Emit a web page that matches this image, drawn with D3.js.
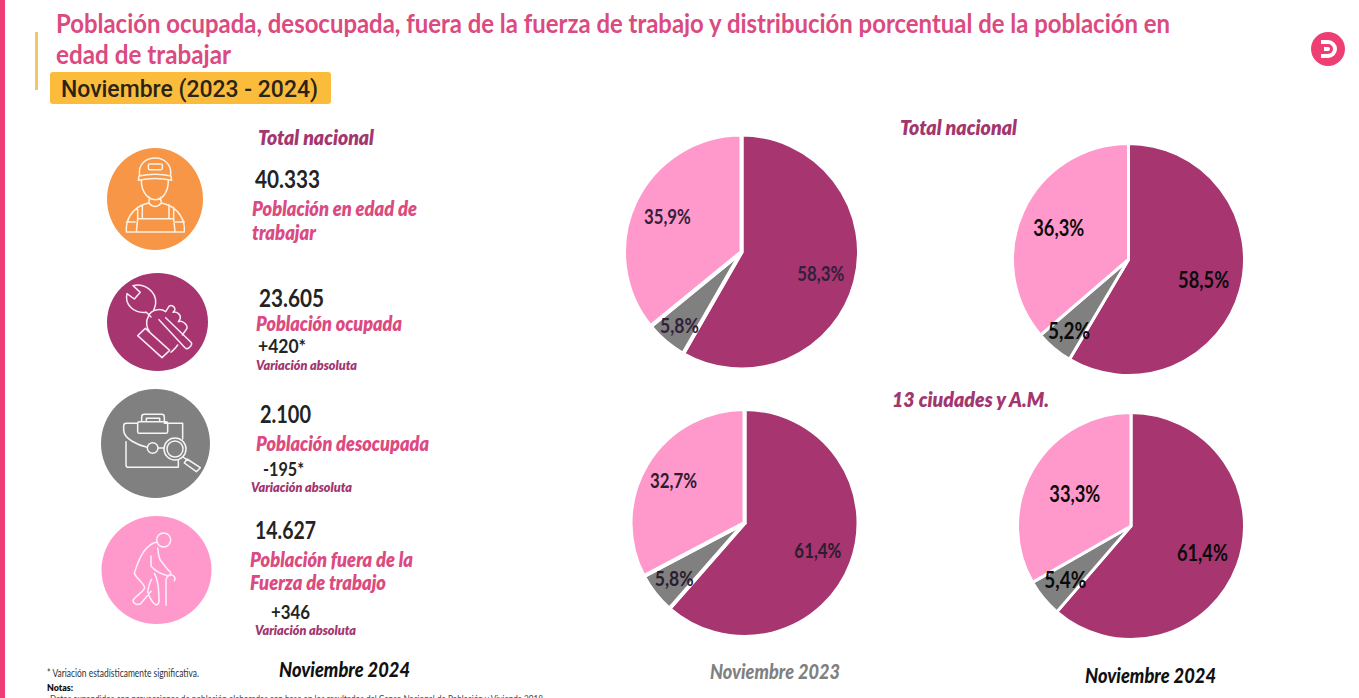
<!DOCTYPE html>
<html lang="es">
<head>
<meta charset="utf-8">
<script src="https://cdn.jsdelivr.net/npm/d3@7/dist/d3.min.js"></script>
<style>
html,body{margin:0;padding:0;background:#fff;overflow:hidden}
svg{display:block}
text{font-family:Lato,"Open Sans",sans-serif}
</style>
</head>
<body>
<svg id="chart" width="1359" height="698" viewBox="0 0 1359 698"></svg>
<script>
// ---- data ----
const categories = ["Población ocupada", "Población desocupada", "Población fuera de la Fuerza de trabajo"];
const nacional2023 = [58.3, 5.8, 35.9];
const nacional2024 = [58.5, 5.2, 36.3];
const ciudades2023 = [61.4, 5.8, 32.7];
const ciudades2024 = [61.4, 5.4, 33.3];
const totals = ["40.333", "23.605", "2.100", "14.627"];
const variations = ["+420*", "-195*", "+346"];
const titleLines = ["Población ocupada, desocupada, fuera de la fuerza de trabajo y distribución porcentual de la población en", "edad de trabajar"];
const subtitle = "Noviembre (2023 - 2024)";

// ---- layout ----
const svg = d3.select("#chart");
const PINK = "#DB4A80", WINE = "#A2366F", INK = "#232323";
const colors = d3.scaleOrdinal().domain(categories).range(["#A63570", "#808080", "#FF99CC"]);
const fmt = v => d3.format(".1f")(v).replace(".", ",") + "%";

function label(str, x, y, width, size, fill, weight, italic, parent) {
  const t = (parent || svg).append("text")
    .attr("x", x).attr("y", y).attr("font-size", size).attr("fill", fill)
    .attr("font-weight", weight).text(str);
  if (italic) t.attr("font-style", "italic");
  if (width) t.attr("textLength", width).attr("lengthAdjust", "spacingAndGlyphs");
  return t;
}

// ---- frame ----
svg.append("rect").attr("x", 0).attr("y", 0).attr("width", 5).attr("height", 698).attr("fill", "#EE3F74");
svg.append("rect").attr("x", 35).attr("y", 32).attr("width", 3).attr("height", 58).attr("fill", "#F2C765");
label(titleLines[0], 56, 33, 1114, 27, PINK, 700);
label(titleLines[1], 56, 64, 175, 27, PINK, 700);
svg.append("rect").attr("x", 50).attr("y", 72).attr("width", 281).attr("height", 32).attr("rx", 3).attr("fill", "#FBBC3C");
label(subtitle, 61, 97, 257, 23, "#2A2416", 500).style("font-family", "Roboto");

// logo
svg.append("circle").attr("cx", 1328).attr("cy", 49).attr("r", 17).attr("fill", "#EE3F74");
svg.append("path").attr("d", "M1321,40H1328A9,9 0 0 1 1328,58H1321V54H1328A5,5 0 0 0 1328,44H1321Z M1324,47H1328A2,2 0 0 1 1328,51H1324Z")
  .attr("fill", "#fff");

// ---- left column icons (paths traced at 3x inside each icon's box) ----
const icons = [
  {cx: 155, cy: 199, rx: 48, ry: 51, ox: 107, oy: 148, fill: "#F79646", stroke: "#FFF1E2", rings: [], d:
    "M98,84C92,50 115,30 145,30C175,30 197,55 190,84 M96,84Q145,74 192,84L194,97Q145,86 94,97Z M128,48H162Q166,48 166,52V61Q166,65 162,65H128Q124,65 124,61V52Q124,48 128,48Z " +
    "M103,97C103,135 125,155 145,155C165,155 184,135 184,97 M128,148L125,165 M160,148L163,165 M125,165Q145,186 163,165 " +
    "M125,165C90,172 60,200 58,240V252H232V240C230,200 200,172 163,165 M106,170V212H186V170 M92,178V212H106 M200,178V212H186 M92,212L88,252 M200,212L204,252 M58,222H84 M232,222H206"},
  {cx: 157.5, cy: 322, rx: 50.5, ry: 49, ox: 107, oy: 273, fill: "#A63570", stroke: "#FBE8F2", rings: [], d:
    "M78,38L100,58L82,78L60,62C52,92 78,122 118,118L132,132 M78,38C112,30 148,55 146,90C146,98 142,106 140,112 " +
    "M125,128C132,110 160,104 176,116L186,100C192,94 204,100 204,110L198,118C208,114 222,124 220,136L214,146C226,142 242,154 240,166L226,186 " +
    "M156,140L234,224Q240,230 246,224L252,218Q256,212 252,208L176,134 " +
    "M125,128C115,145 118,165 128,176 M192,238C198,232 206,226 212,216 " +
    "M92,188L115,166L188,232L165,254Z"},
  {cx: 155.5, cy: 443.5, rx: 54.5, ry: 54.5, ox: 101, oy: 389, fill: "#808080", stroke: "#F5F5F5",
   rings: [[155, 177, 16], [222, 180, 33], [222, 180, 24]], d:
    "M190,103H245V150 M110,103H76Q68,103 68,111V125C70,150 110,168 139,175 M171,177H189 M75,158V228Q75,235 82,235H232V213 " +
    "M110,103V128Q110,133 115,133H195Q200,133 200,128V103Q200,98 195,98H115Q110,98 110,103Z M122,98V84Q122,76 130,76H182Q190,76 190,84V98 M136,98V88H176V98 " +
    "M246,204L260,214 M258,210L298,236L286,248L250,222Z"},
  {cx: 156.5, cy: 570, rx: 55, ry: 54, ox: 101, oy: 516, fill: "#FF99CC", stroke: "#FFF1F8",
   rings: [[188, 72, 21]], d:
    "M168,78C135,84 115,120 100,172C108,190 128,200 131,215C130,226 98,244 96,254C98,266 112,268 120,262C130,250 145,232 150,226 " +
    "M150,120V150C158,160 175,172 195,178C205,180 212,176 208,168C198,160 190,148 178,132C172,122 172,108 170,96 " +
    "M152,190C145,200 142,215 140,228C146,244 154,262 164,266C172,268 176,258 174,248C172,225 176,200 160,172 " +
    "M195,268V190C198,178 212,172 220,182Q224,188 220,194"}
];
const iconG = svg.selectAll("g.icon").data(icons).join("g").attr("class", "icon");
iconG.append("ellipse").attr("cx", d => d.cx).attr("cy", d => d.cy).attr("rx", d => d.rx).attr("ry", d => d.ry).attr("fill", d => d.fill);
const glyph = iconG.append("g").attr("transform", d => `translate(${d.ox},${d.oy}) scale(${1 / 3})`)
  .attr("fill", "none").attr("stroke", d => d.stroke).attr("stroke-width", 4.5)
  .attr("stroke-linejoin", "round").attr("stroke-linecap", "round");
glyph.append("path").attr("d", d => d.d);
glyph.selectAll("circle").data(d => d.rings).join("circle")
  .attr("cx", d => d[0]).attr("cy", d => d[1]).attr("r", d => d[2]);

// ---- left column text ----
label("Total nacional", 258, 145, 116, 21, WINE, 800, true);
label(totals[0], 255, 188, 65, 24, INK, 700);
label("Población en edad de", 252, 216, 165, 20, PINK, 800, true);
label("trabajar", 252, 240, 64, 20, PINK, 800, true);
label(totals[1], 259, 307, 65, 24, INK, 700);
label(categories[0], 256, 331, 146, 20, PINK, 800, true);
label(variations[0], 258, 353, 48, 19, INK, 700);
label("Variación absoluta", 256, 370, 101, 13, WINE, 800, true);
label(totals[2], 260, 423, 51, 24, INK, 700);
label(categories[1], 256, 451, 173, 20, PINK, 800, true);
label(variations[1], 263, 475.5, 41, 19, INK, 700);
label("Variación absoluta", 251, 491.5, 101, 13, WINE, 800, true);
label(totals[3], 255, 539, 61, 24, INK, 700);
label("Población fuera de la", 250, 567, 163, 20, PINK, 800, true);
label("Fuerza de trabajo", 250, 590, 136, 20, PINK, 800, true);
label(variations[2], 271, 619, 39, 19, INK, 700);
label("Variación absoluta", 255, 634.5, 101, 13, WINE, 800, true);
label("Noviembre 2024", 279, 677, 131, 20, "#111", 900, true);
label("* Variación estadísticamente significativa.", 47, 677, 152, 10.5, "#333", 400);
label("Notas:", 47, 691, 26, 10, "#111", 800);
label("Datos expandidos con proyecciones de población elaboradas con base en los resultados del Censo Nacional de Población y Vivienda 2018.", 50, 702, 495, 10, "#444", 400);

// ---- pies ----
const pies = [
  {values: nacional2023, cx: 741.5, cy: 252, r: 115.5, stroke: 4, ink: "#33203A", weight: 700, size: 21, radii: [0.71, 0.83, 0.71]},
  {values: nacional2024, cx: 1128.5, cy: 259.5, r: 114.5, stroke: 3, ink: "#0A0A0A", weight: 700, size: 23, radii: [0.68, 0.81, 0.67]},
  {values: ciudades2023, cx: 744.5, cy: 523, r: 112, stroke: 4, ink: "#2B1C30", weight: 700, size: 21, radii: [0.70, 0.80, 0.74]},
  {values: ciudades2024, cx: 1131, cy: 526, r: 112, stroke: 3, ink: "#0A0A0A", weight: 700, size: 23, radii: [0.68, 0.76, 0.58]}
];
const pieGen = d3.pie().sort(null).startAngle(0).endAngle(2 * Math.PI);
pies.forEach(p => {
  const g = svg.append("g").attr("transform", `translate(${p.cx},${p.cy})`);
  const arc = d3.arc().innerRadius(0).outerRadius(p.r + p.stroke / 2);
  const arcs = pieGen(p.values);
  g.selectAll("path").data(arcs).join("path")
    .attr("d", arc)
    .attr("fill", (d, i) => colors(categories[i]))
    .attr("stroke", "#fff").attr("stroke-width", p.stroke).attr("stroke-linejoin", "miter");
  g.selectAll("text").data(arcs).join("text")
    .attr("transform", (d, i) => {
      const c = d3.arc().innerRadius(p.r * p.radii[i]).outerRadius(p.r * p.radii[i]).centroid(d);
      return `translate(${c[0]},${c[1]})`;
    })
    .attr("text-anchor", "middle").attr("dy", "0.36em")
    .attr("font-size", p.size).attr("font-weight", p.weight).attr("fill", p.ink)
    .attr("textLength", (d, i) => p.stroke === 4 ? (i === 1 ? 39 : 47) : (i === 1 ? 42 : 51)).attr("lengthAdjust", "spacingAndGlyphs")
    .text(d => fmt(d.value));
});

// ---- right column headings ----
label("Total nacional", 900, 135, 117, 21, WINE, 800, true);
label("13 ciudades y A.M.", 892, 407, 157, 21, WINE, 800, true);
label("Noviembre 2023", 710, 679, 130, 20, "#808080", 900, true);
label("Noviembre 2024", 1085, 683, 131, 20, "#111", 900, true);
</script>
</body>
</html>
